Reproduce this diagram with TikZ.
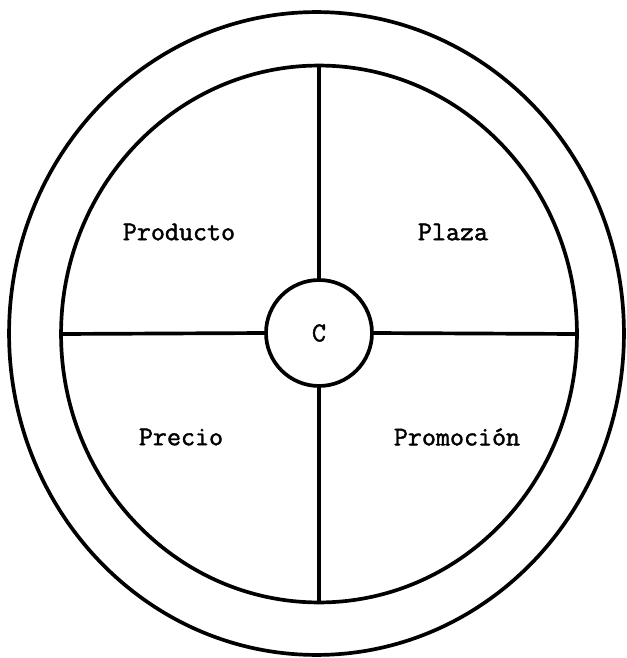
\documentclass[tikz,border=0pt]{standalone}
\usepackage{fontspec}
\setmonofont{Latin Modern Mono}[AutoFakeBold=1.6]
\usepackage{tikz}
\usetikzlibrary{shapes.geometric}

\begin{document}
\begin{tikzpicture}[
  x=0.02cm,y=-0.02cm,
  font=\ttfamily\bfseries\fontsize{15.5}{18}\selectfont,
  ring/.style={draw,ellipse,line width=2.1pt,inner sep=0pt,outer sep=0pt},
  spoke/.style={line width=2.1pt},
  lbl/.style={inner sep=0pt}
]
\useasboundingbox (0,0) rectangle (626,658);

\node[ring,minimum width=12.30cm,minimum height=12.86cm] (outer) at (316.5,333.5) {};
\node[ring,minimum width=10.32cm,minimum height=10.74cm] (inner) at (319,334) {};
\node[ring,circle,minimum size=2.12cm] (c) at (319,333) {C};

\node[lbl] (prod)  at (179,232) {Producto};
\node[lbl] (plaza) at (453,232) {Plaza};
\node[lbl] (prec)  at (181,437) {Precio};
\node[lbl] (prom)  at (457,437) {Promoción};

\draw[spoke] (c.north) -- (inner.north);
\draw[spoke] (c.south) -- (inner.south);
\draw[spoke] (c.west) -- (inner.west);
\draw[spoke] (c.east) -- (inner.east);
\end{tikzpicture}
\end{document}
